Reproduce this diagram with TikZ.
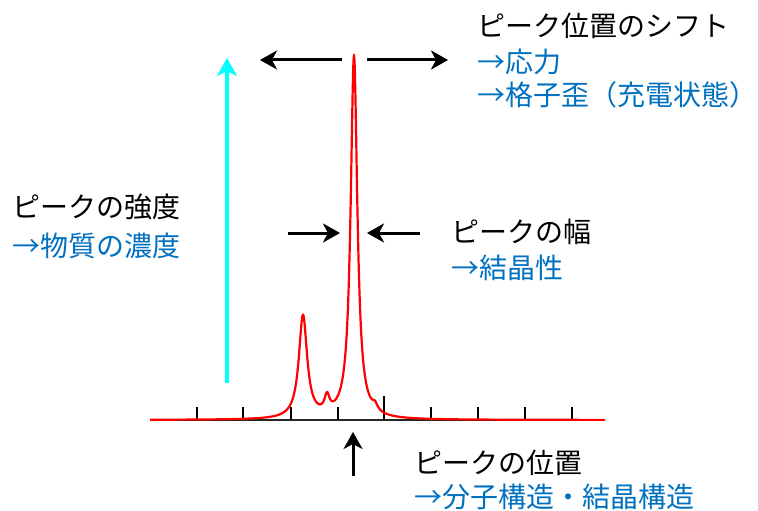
\documentclass[tikz,border=0pt]{standalone}
\usepackage{fontspec}
\newfontfamily\jp{Noto Sans CJK JP}
\usetikzlibrary{arrows.meta}
\definecolor{txtblue}{RGB}{0,112,192}
\definecolor{aqua}{RGB}{0,255,255}
\definecolor{pure red}{RGB}{255,0,0}
\begin{document}
\begin{tikzpicture}[x=1pt,y=-1pt,
  lbl/.style={font=\jp\fontsize{28}{34}\selectfont, inner sep=0pt, anchor=base west},
  head/.style={lbl, text=black},
  note/.style={lbl, text=txtblue},
  blk/.style={line width=3pt, black, -{Stealth[length=17pt,width=19pt,inset=5pt]}},
  cyanarrow/.style={line width=3.2pt, aqua, -{Stealth[length=18pt,width=20pt,inset=5pt]}},
  tickmark/.style={line width=2pt, black}]
\useasboundingbox (0,0) rectangle (758,511);
% axis
\coordinate (b0) at (150,420);
\coordinate (b1) at (605,420);
\draw[line width=2.2pt, black!85] (b0) -- (b1);
\foreach \t in {197,243,291,338,431,478,525,572}
  \draw[tickmark] (\t,420) -- (\t,407);
\draw[tickmark] (384,420) -- (384,396);
% spectrum
\draw[pure red, line width=2.2pt, line join=round]
  plot[domain=150:605, samples=911]
  (\x, {420 - 364/(1+((\x-354)/4)^2) - 103/(1+((\x-303)/5)^2) - 16/(1+((\x-327)/3)^2) - 6/(1+((\x-375)/3)^2)});
% intensity arrow
\coordinate (c0) at (227,383);
\coordinate (c1) at (227,58);
\draw[cyanarrow] (c0) -- (c1);
% shift arrows
\coordinate (tl1) at (342,60);
\coordinate (tl2) at (260,60);
\coordinate (tr1) at (367,60);
\coordinate (tr2) at (448,60);
\draw[blk] (tl1) -- (tl2);
\draw[blk] (tr1) -- (tr2);
% width arrows
\coordinate (wl1) at (288,233);
\coordinate (wl2) at (340,233);
\coordinate (wr1) at (420,233);
\coordinate (wr2) at (367,233);
\draw[blk] (wl1) -- (wl2);
\draw[blk] (wr1) -- (wr2);
% position arrow
\coordinate (p0) at (353,476);
\coordinate (p1) at (353,432);
\draw[blk] (p0) -- (p1);
% texts
\node[head] (shift)  at (477,37)  {ピーク位置のシフト};
\node[note] (stress) at (477,73)  {→応力};
\node[note] (strain) at (477,105) {→格子歪（充電状態）};
\node[head] (inten)  at (12,217)  {ピークの強度};
\node[note] (conc)   at (12,256)  {→物質の濃度};
\node[head] (wid)    at (451,242) {ピークの幅};
\node[note] (cryst)  at (451,278) {→結晶性};
\node[head] (pos)    at (414,473) {ピークの位置};
\node[note] (struct) at (414,507) {→分子構造・結晶構造};
\end{tikzpicture}
\end{document}
